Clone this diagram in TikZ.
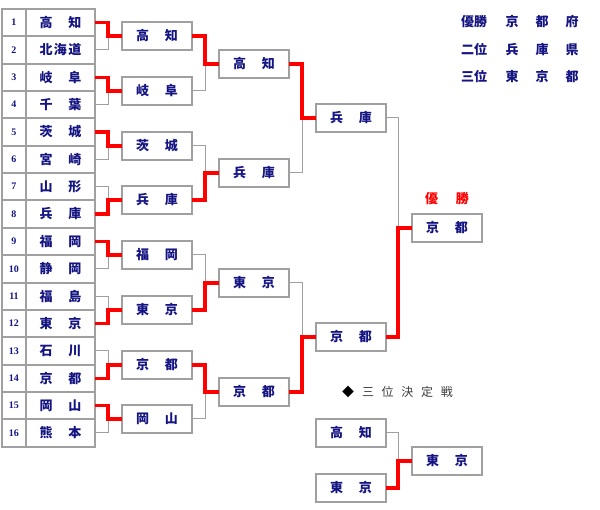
\documentclass[tikz,border=0pt]{standalone}
\usepackage{fontspec}
\usetikzlibrary{positioning}
\setmainfont{Liberation Serif}
\newfontfamily\jp{Noto Sans CJK JP}
\definecolor{nv}{RGB}{20,20,130}
\definecolor{bx}{RGB}{160,160,160}
\definecolor{rd}{RGB}{255,0,0}
\definecolor{hd}{RGB}{60,60,60}
\newcommand\tmtwo[2]{\makebox[42pt]{#1\hfill #2}}
\newcommand\tmthree[3]{\makebox[42pt]{#1\hfill #2\hfill #3}}
\newcommand\mtch[3]{%
  \draw[gl] (#2.east) -| ([xshift=-14pt]#3.west);
  \draw[rl] (#1.east) -| ([xshift=-14pt]#3.west) -- (#3.west);}
\begin{document}
\begin{tikzpicture}[x=1pt,y=-1pt,
  cell/.style={draw=bx,line width=2pt,inner sep=0pt,outer sep=0pt,text=nv,font=\jp\bfseries\fontsize{13}{13}\selectfont},
  numcell/.style={cell,minimum width=24pt,font=\bfseries\fontsize{10}{10}\selectfont},
  namecell/.style={cell,minimum width=69pt},
  rbox/.style={cell,minimum width=70pt,minimum height=28pt},
  gl/.style={draw=bx,line width=1pt},
  rl/.style={draw=rd,line width=3.4pt},
  lbl/.style={inner sep=0pt,text=nv,font=\jp\bfseries\fontsize{13}{13}\selectfont}]
\useasboundingbox (0,0) rectangle (600,510);
% team table
\foreach \i/\nm in {1/{\tmtwo{高}{知}},2/{\tmthree{北}{海}{道}},3/{\tmtwo{岐}{阜}},4/{\tmtwo{千}{葉}},5/{\tmtwo{茨}{城}},6/{\tmtwo{宮}{崎}},7/{\tmtwo{山}{形}},8/{\tmtwo{兵}{庫}},9/{\tmtwo{福}{岡}},10/{\tmtwo{静}{岡}},11/{\tmtwo{福}{島}},12/{\tmtwo{東}{京}},13/{\tmtwo{石}{川}},14/{\tmtwo{京}{都}},15/{\tmtwo{岡}{山}},16/{\tmtwo{熊}{本}}}{
  \pgfmathsetmacro\tp{round(9+27.35*(\i-1))}
  \pgfmathsetmacro\bt{round(9+27.35*\i)}
  \pgfmathsetmacro\hh{\bt-\tp}
  \pgfmathsetmacro\cy{(\bt+\tp)/2}
  \node[numcell,minimum height=\hh pt] (n\i) at (14,\cy) {\i};
  \node[namecell,minimum height=\hh pt] (t\i) at (60.5,\cy) {\nm};
}
% round 1
\foreach \k/\a/\b in {1/高/知,2/岐/阜,3/茨/城,4/兵/庫,5/福/岡,6/東/京,7/京/都,8/岡/山}{
  \pgfmathsetmacro\cy{round(9+27.35*(2*\k-1))}
  \node[rbox] (a\k) at (157,\cy) {\tmtwo{\a}{\b}};
}
% round 2
\foreach \k/\a/\b in {1/高/知,2/兵/庫,3/東/京,4/京/都}{
  \pgfmathsetmacro\cy{round(9+27.35*(4*\k-2))}
  \node[rbox] (b\k) at (254,\cy) {\tmtwo{\a}{\b}};
}
% round 3
\node[rbox] (c1) at (351,118) {\tmtwo{兵}{庫}};
\node[rbox] (c2) at (351,337) {\tmtwo{京}{都}};
% final
\node[rbox] (f) at (447,228) {\tmtwo{京}{都}};
\node[lbl,text=rd,above=9pt of f.north] (win) {\makebox[44pt]{優\hfill 勝}};
% third place
\node[rbox] (p1) at (351,433) {\tmtwo{高}{知}};
\node[rbox] (p2) at (351,488) {\tmtwo{東}{京}};
\node[rbox] (pf) at (447,461) {\tmtwo{東}{京}};
\node[inner sep=0pt,text=black,font=\jp\fontsize{12}{12}\selectfont] (dia) at (348,392) {◆};
\node[inner sep=0pt,text=hd,font=\jp\fontsize{12}{12}\selectfont] (hdg) at (407.5,392) {\makebox[91pt]{三\hfill 位\hfill 決\hfill 定\hfill 戦}};
% matches round 1
\mtch{t1}{t2}{a1}
\mtch{t3}{t4}{a2}
\mtch{t5}{t6}{a3}
\mtch{t8}{t7}{a4}
\mtch{t9}{t10}{a5}
\mtch{t12}{t11}{a6}
\mtch{t14}{t13}{a7}
\mtch{t15}{t16}{a8}
% round 2
\mtch{a1}{a2}{b1}
\mtch{a4}{a3}{b2}
\mtch{a6}{a5}{b3}
\mtch{a7}{a8}{b4}
% round 3
\mtch{b1}{b2}{c1}
\mtch{b4}{b3}{c2}
% final
\mtch{c2}{c1}{f}
% third
\mtch{p2}{p1}{pf}
% result summary
\node[lbl] (r1a) at (474,22) {優勝};
\node[lbl] (r1b) at (512,22) {京};
\node[lbl] (r1c) at (542,22) {都};
\node[lbl] (r1d) at (572,22) {府};
\node[lbl] (r2a) at (474,49.5) {二位};
\node[lbl] (r2b) at (512,49.5) {兵};
\node[lbl] (r2c) at (542,49.5) {庫};
\node[lbl] (r2d) at (572,49.5) {県};
\node[lbl] (r3a) at (474,76.5) {三位};
\node[lbl] (r3b) at (512,76.5) {東};
\node[lbl] (r3c) at (542,76.5) {京};
\node[lbl] (r3d) at (572,76.5) {都};
\end{tikzpicture}
\end{document}
